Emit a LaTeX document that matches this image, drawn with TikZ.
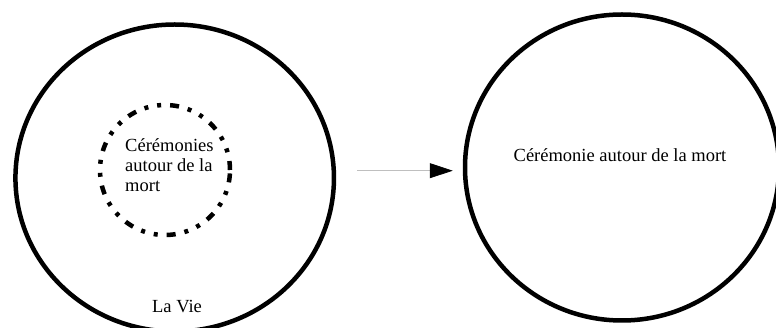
\documentclass[tikz,border=0pt]{standalone}
\usepackage{fontspec}
\setmainfont{Liberation Serif}
\usetikzlibrary{shapes.geometric,arrows.meta}
\begin{document}
\begin{tikzpicture}[x=1pt,y=-1pt,
  bigoval/.style={draw=black,line width=4.5pt,ellipse,inner sep=0pt},
  dotoval/.style={draw=black,line width=4.5pt,circle,inner sep=0pt,
    dash pattern=on 9pt off 9pt on 4pt off 9pt on 4pt off 9pt},
  lbl/.style={font=\fontsize{18.5}{20}\selectfont,inner sep=0pt},
  arrowline/.style={draw=black!25,line width=0.8pt,
    -{Triangle[length=23pt,width=15pt,color=black]}}]
\useasboundingbox (0,0) rectangle (776,328);
\node[bigoval,minimum width=318.5pt,minimum height=307pt] (L) at (174.7,178) {};
\node[bigoval,minimum width=314pt,minimum height=306pt] (R) at (622,167.5) {};
\node[dotoval,minimum size=130pt] (D) at (165,170) {};
\node[lbl,align=left,anchor=base west] (t1) at (125,192) {Cérémonies\\autour de la\\mort};
\node[lbl,anchor=base] (t2) at (620,162) {Cérémonie autour de la mort};
\node[lbl,anchor=base] (t3) at (177,313) {La Vie};
\draw[arrowline] ([shift={(21,-7.3)}]L.east) -- ([shift={(-10,3.2)}]R.west);
\end{tikzpicture}
\end{document}
